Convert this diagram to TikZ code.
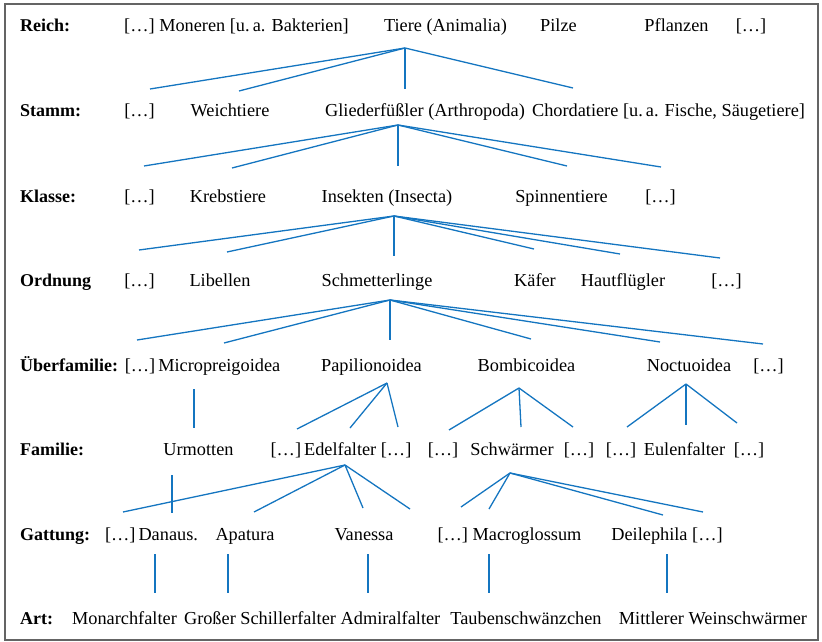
\documentclass[tikz,border=0pt]{standalone}
\usepackage{fontspec}
\setmainfont{Liberation Serif}
\definecolor{linkblue}{RGB}{20,117,192}
\definecolor{framegray}{RGB}{100,100,100}
\begin{document}
\begin{tikzpicture}[x=1pt,y=-1pt,
  txt/.style={anchor=base,inner sep=0pt,font=\fontsize{18.3}{22}\selectfont},
  lbl/.style={anchor=base west,inner sep=0pt,font=\fontsize{18}{22}\selectfont\bfseries},
  link/.style={draw=linkblue,line width=1.3pt}]
\useasboundingbox (0,0) rectangle (822,642);
\draw[framegray,line width=1.6pt] (5,4) rectangle (818,640);
% labels
\node[lbl] (lReich) at (20,32) {Reich:};
\node[lbl] (lStamm) at (20,117) {Stamm:};
\node[lbl] (lKlasse) at (20,202) {Klasse:};
\node[lbl] (lOrdnung) at (20,286) {Ordnung};
\node[lbl] (lUeber) at (20,371) {Überfamilie:};
\node[lbl] (lFamilie) at (20,455) {Familie:};
\node[lbl] (lGattung) at (20,540) {Gattung:};
\node[lbl] (lArt) at (20,624) {Art:};
% Reich
\node[txt] (moneren) at (236.5,32) {[…] Moneren [u.\,a. Bakterien]};
\node[txt] (tiere) at (445.5,32) {Tiere (Animalia)};
\node[txt] (pilze) at (558.5,32) {Pilze};
\node[txt] (pflanzen) at (676.5,32) {Pflanzen};
\node[txt] (r5) at (751,32) {[…]};
% Stamm
\node[txt] (s1) at (139.5,117) {[…]};
\node[txt] (weich) at (230,117) {Weichtiere};
\node[txt] (glieder) at (425,117) {Gliederfüßler (Arthropoda)};
\node[txt] (chorda) at (668.5,117) {Chordatiere [u.\,a. Fische, Säugetiere]};
% Klasse
\node[txt] (k1) at (139.5,202) {[…]};
\node[txt] (krebs) at (228,202) {Krebstiere};
\node[txt] (insekten) at (387,202) {Insekten (Insecta)};
\node[txt] (spinnen) at (561.5,202) {Spinnentiere};
\node[txt] (k5) at (660.5,202) {[…]};
% Ordnung
\node[txt] (o1) at (139.5,286) {[…]};
\node[txt] (libellen) at (220,286) {Libellen};
\node[txt] (schmett) at (377,286) {Schmetterlinge};
\node[txt] (kaefer) at (535,286) {Käfer};
\node[txt] (haut) at (623,286) {Hautflügler};
\node[txt] (o6) at (726.5,286) {[…]};
% Ueberfamilie
\node[txt] (micro) at (202.5,371) {[…]\,Micropreigoidea};
\node[txt] (papilio) at (371.5,371) {Papilionoidea};
\node[txt] (bombi) at (526.5,371) {Bombicoidea};
\node[txt] (noctu) at (689,371) {Noctuoidea};
\node[txt] (u5) at (768.5,371) {[…]};
% Familie
\node[txt] (urmotten) at (198.5,455) {Urmotten};
\node[txt] (edel) at (341,455) {[…]\,Edelfalter […]};
\node[txt] (f1) at (443,455) {[…]};
\node[txt] (schwaermer) at (512,455) {Schwärmer};
\node[txt] (f2) at (579,455) {[…]};
\node[txt] (f3) at (621,455) {[…]};
\node[txt] (eulen) at (684.5,455) {Eulenfalter};
\node[txt] (f4) at (749,455) {[…]};
% Gattung
\node[txt] (danaus) at (151.5,540) {[…]\,Danaus.};
\node[txt] (apatura) at (245,540) {Apatura};
\node[txt] (vanessa) at (364,540) {Vanessa};
\node[txt] (macro) at (509.5,540) {[…] Macroglossum};
\node[txt] (deile) at (667,540) {Deilephila […]};
% Art
\node[txt] (monarch) at (124.5,624) {Monarchfalter};
\node[txt] (grosser) at (260,624) {Großer Schillerfalter};
\node[txt] (admiral) at (390.5,624) {Admiralfalter};
\node[txt] (tauben) at (526,624) {Taubenschwänzchen};
\node[txt] (mittlerer) at (713,624) {Mittlerer Weinschwärmer};
% apex coordinates
\coordinate (tA) at (405,48);
\coordinate (gA) at (398,125);
\coordinate (iA) at (394,216);
\coordinate (sA) at (390,300);
\coordinate (pA) at (387,383);
\coordinate (bA) at (519,388);
\coordinate (nA) at (686,384);
\coordinate (eA) at (345,465);
\coordinate (wA) at (510,473);
% fans
\foreach \i/\x/\y in {1/150/89,2/239/91,3/405/89,4/573/88}
  {\coordinate (t\i) at (\x,\y); \draw[link] (tA) -- (t\i);}
\foreach \i/\x/\y in {1/144/166,2/232/168,3/398/166,4/567/166,5/661/167}
  {\coordinate (g\i) at (\x,\y); \draw[link] (gA) -- (g\i);}
\foreach \i/\x/\y in {1/139/250,2/227/252,3/394/256,4/534/249,5/620/254,6/720/258}
  {\coordinate (i\i) at (\x,\y); \draw[link] (iA) -- (i\i);}
\foreach \i/\x/\y in {1/137/340,2/224/343,3/390/340,4/531/339,5/660/342,6/763/344}
  {\coordinate (s\i) at (\x,\y); \draw[link] (sA) -- (s\i);}
\foreach \i/\x/\y in {1/297/429,2/350/428,3/398/427}
  {\coordinate (p\i) at (\x,\y); \draw[link] (pA) -- (p\i);}
\foreach \i/\x/\y in {1/449/430,2/521/427,3/573/427}
  {\coordinate (b\i) at (\x,\y); \draw[link] (bA) -- (b\i);}
\foreach \i/\x/\y in {1/627/427,2/686/425,3/737/423}
  {\coordinate (n\i) at (\x,\y); \draw[link] (nA) -- (n\i);}
\foreach \i/\x/\y in {1/123/512,2/254/512,3/363/508,4/410/509}
  {\coordinate (e\i) at (\x,\y); \draw[link] (eA) -- (e\i);}
\foreach \i/\x/\y in {1/461/507,2/489/509,3/663/515,4/703/512}
  {\coordinate (w\i) at (\x,\y); \draw[link] (wA) -- (w\i);}
% single verticals
\coordinate (mT) at (194,389); \coordinate (mB) at (194,428);
\draw[link] (mT) -- (mB);
\coordinate (uT) at (172,475); \coordinate (uB) at (172,513);
\draw[link] (uT) -- (uB);
\foreach \i/\x in {1/155,2/228,3/368,4/489,5/667}
  {\coordinate (aT\i) at (\x,554); \coordinate (aB\i) at (\x,593); \draw[link] (aT\i) -- (aB\i);}
\end{tikzpicture}
\end{document}
